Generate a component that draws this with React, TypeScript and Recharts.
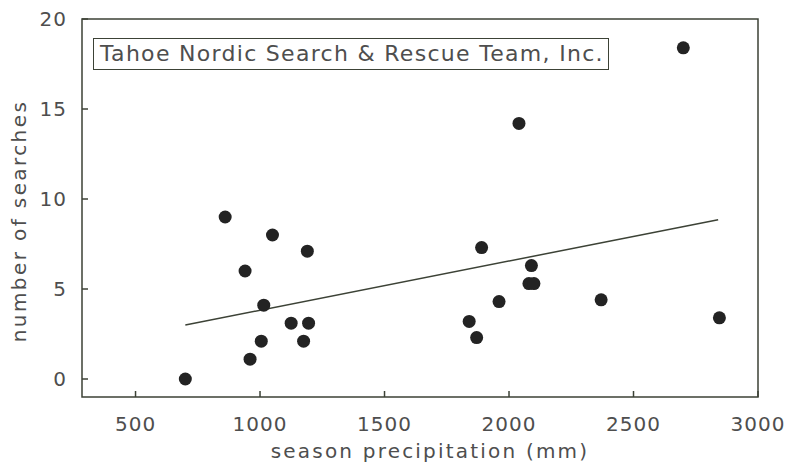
import React from 'react';
import { ScatterChart, Scatter, XAxis, YAxis, ReferenceArea, ReferenceLine, Label } from 'recharts';

// season precipitation (mm) vs number of searches
const precipitation = [700, 860, 940, 1050, 1190, 1015, 1005, 960, 1125, 1195, 1175, 2700, 2040, 1890, 2090, 2080, 2100, 1960, 2370, 1840, 1870, 2845];
const searches = [0, 9, 6, 8, 7.1, 4.1, 2.1, 1.1, 3.1, 3.1, 2.1, 18.4, 14.2, 7.3, 6.3, 5.3, 5.3, 4.3, 4.4, 3.2, 2.3, 3.4];

const xTicks = [500, 1000, 1500, 2000, 2500, 3000];
const yTicks = [0, 5, 10, 15, 20];

// fitted line end points
const trendX = [700, 2840];
const trendY = [3.0, 8.85];

const points = precipitation.map((x, i) => ({ x, y: searches[i] }));

const FONT = '"DejaVu Sans", sans-serif';
const INK = '#3c4236';
const TEXT = '#4e4e4e';

const Dot = (props: any) => <circle cx={props.cx} cy={props.cy} r={6.5} fill="#232323" />;

const YTitle = () => (
    <text
        x={19}
        y={221}
        transform="rotate(-90 19 221)"
        textAnchor="middle"
        dominantBaseline="central"
        style={{ fontSize: 20, fill: TEXT, fontFamily: FONT, letterSpacing: 2.4 }}
    >
        number of searches
    </text>
);

const XTitle = () => (
    <text x={430} y={458} textAnchor="middle" style={{ fontSize: 20, fill: TEXT, fontFamily: FONT, letterSpacing: 2.2 }}>
        season precipitation (mm)
    </text>
);

export default function App() {
    return (
        <div style={{ position: 'absolute', left: 0, top: 0, width: 790, height: 462, background: '#fff' }}>
            <ScatterChart width={790} height={462} margin={{ top: 19, right: 32, left: 20, bottom: 25 }}>
                <XAxis
                    type="number"
                    dataKey="x"
                    domain={[285, 3000]}
                    ticks={xTicks}
                    allowDataOverflow
                    height={40}
                    axisLine={false}
                    tickSize={-6}
                    tickMargin={26}
                    tickLine={{ stroke: INK, strokeWidth: 1.5 }}
                    tick={{ fontSize: 20, fill: TEXT, fontFamily: FONT, letterSpacing: 1 }}
                >
                    <Label content={<XTitle />} />
                </XAxis>
                <YAxis
                    type="number"
                    dataKey="y"
                    domain={[-1, 20]}
                    ticks={yTicks}
                    allowDataOverflow
                    width={62}
                    axisLine={false}
                    tickSize={-6}
                    tickMargin={21}
                    tickLine={{ stroke: INK, strokeWidth: 1.5 }}
                    tick={{ fontSize: 20, fill: TEXT, fontFamily: FONT, letterSpacing: 1 }}
                >
                    <Label content={<YTitle />} />
                </YAxis>
                <ReferenceArea x1={285} x2={3000} y1={-1} y2={20} fill="none" stroke={INK} strokeWidth={1.5} ifOverflow="extendDomain" />
                <ReferenceLine
                    segment={[
                        { x: trendX[0], y: trendY[0] },
                        { x: trendX[1], y: trendY[1] },
                    ]}
                    stroke={INK}
                    strokeWidth={1.5}
                />
                <Scatter data={points} shape={Dot} isAnimationActive={false} />
            </ScatterChart>
            <div
                style={{
                    position: 'absolute',
                    left: 93,
                    top: 38,
                    width: 508,
                    height: 30,
                    border: `1.5px solid ${INK}`,
                    fontFamily: FONT,
                    fontSize: 22,
                    color: TEXT,
                    lineHeight: '30px',
                    paddingLeft: 6,
                    letterSpacing: 1.3,
                    whiteSpace: 'nowrap',
                    boxSizing: 'content-box',
                }}
            >
                Tahoe Nordic Search &amp; Rescue Team, Inc.
            </div>
        </div>
    );
}
